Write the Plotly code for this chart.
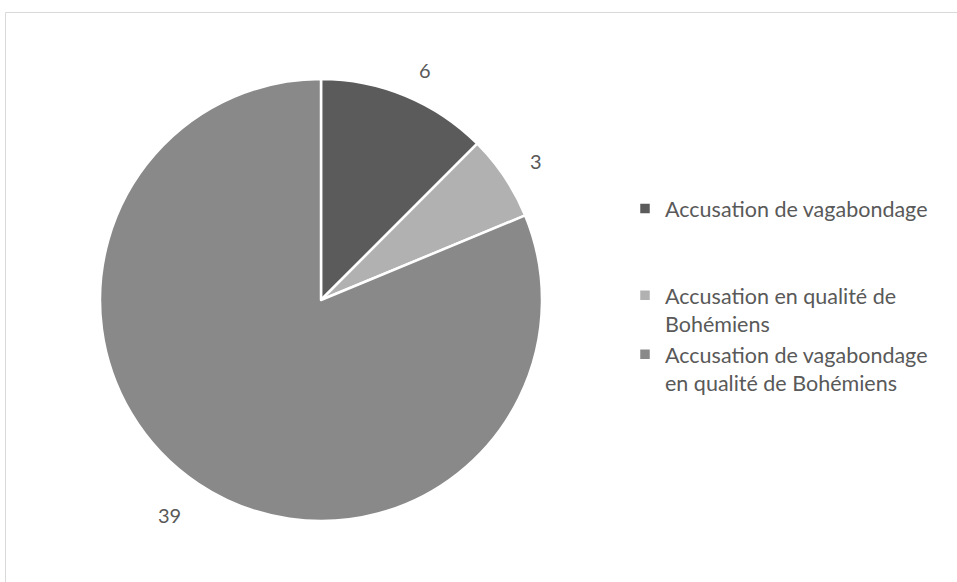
import math
import plotly.graph_objects as go

# Chart data
categories = [
    "Accusation de vagabondage",
    "Accusation en qualité de<br>Bohémiens",
    "Accusation de vagabondage<br>en qualité de Bohémiens",
]
values = [6, 3, 39]
colors = ["#5b5b5b", "#b1b1b1", "#898989"]

W, H = 957, 582
TEXT = "#595959"
FONT = "Lato"

# Pie geometry in pixels
cx, cy, R = 321, 300, 221

# Legend entries padded with blank lines to spread items vertically
pad_lines = [2, 0, 0]
legend_labels = [c + "<br> " * p for c, p in zip(categories, pad_lines)]

fig = go.Figure()
fig.add_trace(go.Pie(
    labels=legend_labels,
    values=values,
    sort=False,
    direction="clockwise",
    rotation=0,
    marker=dict(colors=colors, line=dict(color="white", width=2.5)),
    textinfo="none",
    hoverinfo="label+value",
    domain=dict(x=[(cx - R) / W, (cx + R) / W],
                y=[(H - cy - R) / H, (H - cy + R) / H]),
))

# Value labels placed outside each slice at its mid-angle
total = sum(values)
cum = 0
annotations = []
label_r = R + 27
for v in values:
    mid = (cum + v / 2) / total * 2 * math.pi
    cum += v
    dx, dy = math.sin(mid), -math.cos(mid)
    txt = str(v)
    half_w = 4.5 + 4.5 * len(txt)
    half_h = 9 if dy > 0 else 1
    px = cx + label_r * dx + math.copysign(half_w, dx)
    py = cy + label_r * dy + math.copysign(half_h, dy)
    annotations.append(dict(
        x=px / W, y=1 - py / H, xref="paper", yref="paper",
        text=txt, showarrow=False, xanchor="center", yanchor="middle",
        font=dict(family=FONT, size=20, color=TEXT),
    ))

fig.update_layout(
    width=W, height=H,
    margin=dict(l=0, r=0, t=0, b=0),
    paper_bgcolor="white",
    plot_bgcolor="white",
    showlegend=True,
    legend=dict(
        x=625 / W, y=1 - 188 / H, xanchor="left", yanchor="top",
        font=dict(family=FONT, size=21.5, color=TEXT),
        valign="top",
        bgcolor="rgba(0,0,0,0)",
    ),
    annotations=annotations,
    shapes=[dict(
        type="rect", xref="paper", yref="paper",
        x0=5.5 / W, x1=1.05, y0=-0.05, y1=1 - 12.5 / H,
        line=dict(color="#d9d9d9", width=1), fillcolor="rgba(0,0,0,0)",
    )],
)

fig.write_html("out.html")
